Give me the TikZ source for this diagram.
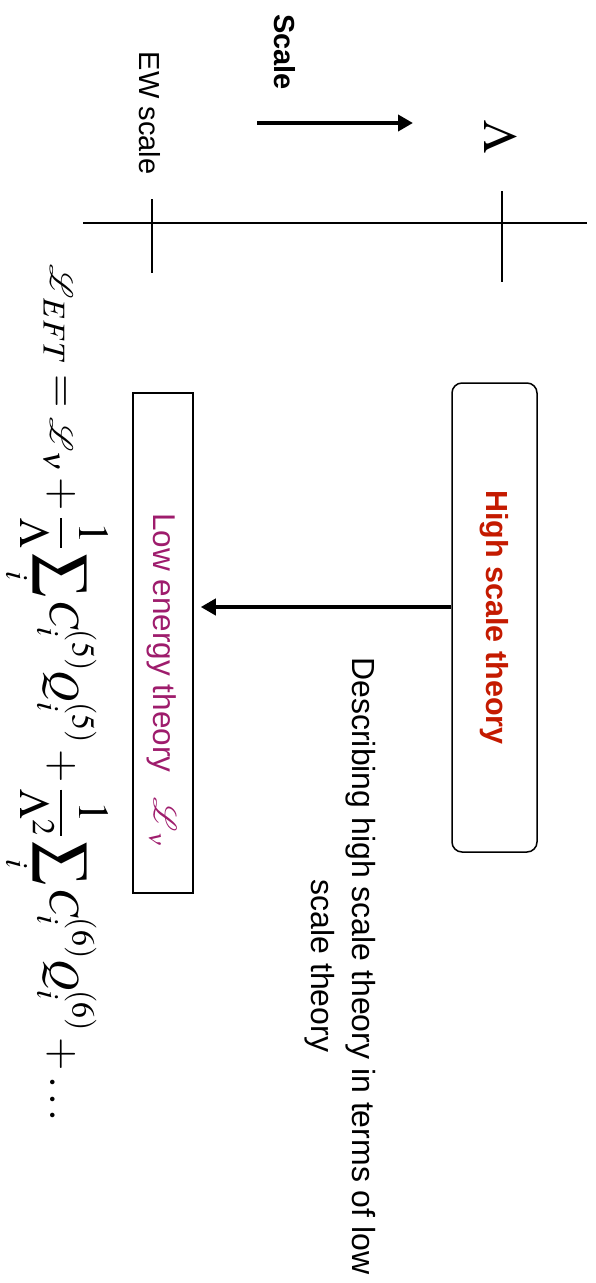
\documentclass[tikz,border=0pt]{standalone}
\usepackage{mathptmx}
\usepackage{mathrsfs}
\usepackage{graphicx}
\usepackage[no-math]{fontspec}
\setmainfont{Liberation Sans}
\usetikzlibrary{arrows.meta}

\definecolor{highred}{RGB}{196,26,0}
\definecolor{lowpurple}{RGB}{158,28,108}
\newcommand{\LagL}{\scalebox{1.3}{$\mathscr{L}$}}

\begin{document}
\begin{tikzpicture}[
    x=1pt, y=-1pt,
    line width=1.5pt,
    every node/.style={rotate=-90, inner sep=0pt, text=black},
    scalelabel/.style={font=\fontsize{29}{34}\selectfont},
    tick/.style={draw=black},
    highbox/.style={draw, rounded corners=10pt, minimum width=469pt,
      minimum height=85pt, text=highred,
      font=\fontsize{30.5}{36}\selectfont\bfseries},
    lowbox/.style={draw, minimum width=500pt, minimum height=60pt},
    lowtext/.style={text=lowpurple, font=\fontsize{31.5}{38}\selectfont},
    note/.style={align=center, font=\fontsize{32}{41}\selectfont},
    formula/.style={font=\fontsize{43}{50}\selectfont},
    flow/.style={-{Triangle[length=15pt,width=16pt]}, line width=4pt}
  ]
  \useasboundingbox (0,0) rectangle (595,1283);

  %--------------------------------------
  % 1) Scale axis with its two marks
  %--------------------------------------
  \coordinate (A0) at (83,223);
  \coordinate (A1) at (587,223);
  \draw[tick] (A0) -- (A1);

  \coordinate (EWtop) at (152,199);
  \coordinate (EWbot) at (152,273);
  \draw[tick] (EWtop) -- (EWbot);

  \coordinate (Ltop) at (502,191);
  \coordinate (Lbot) at (502,282);
  \draw[tick] (Ltop) -- (Lbot);

  % labels of the marks
  \node[scalelabel] (ew) at (150,113) {EW scale};
  \node[font=\fontsize{48}{56}\selectfont] (lam) at (501,137) {$\Lambda$};

  % direction of growing scale
  \node[scalelabel, font=\fontsize{29}{34}\selectfont\bfseries] (sc) at (285,52) {Scale};
  \coordinate (S0) at (257,123);
  \coordinate (S1) at (413,123);
  \draw[flow] (S0) -- (S1);

  %--------------------------------------
  % 2) The two theories
  %--------------------------------------
  \node[highbox] (high) at (494.5,617.5) {High scale theory};
  \node[lowbox] (low) at (163,643) {};
  \node[lowtext] (lowlab) at (162,680) {Low energy theory\hspace{0.8em}$\LagL_{\nu}$};

  % matching step
  \draw[flow, shorten >=7pt] ([yshift=10.5pt]high.south) -- ([yshift=10.5pt]high.south -| low.north);

  \node[note] (desc) at (340,966) {Describing high scale theory in terms of low\\scale theory};

  %--------------------------------------
  % 3) Effective Lagrangian
  %--------------------------------------
  \node[formula, anchor=base] (eft) at (50,693)
    {$\displaystyle \LagL_{EFT} = \LagL_{\nu} + \frac{1}{\Lambda}\sum_i C_i^{(5)} Q_i^{(5)}
      + \frac{1}{\Lambda^2}\sum_i C_i^{(6)} Q_i^{(6)} + \dots$};

\end{tikzpicture}
\end{document}
